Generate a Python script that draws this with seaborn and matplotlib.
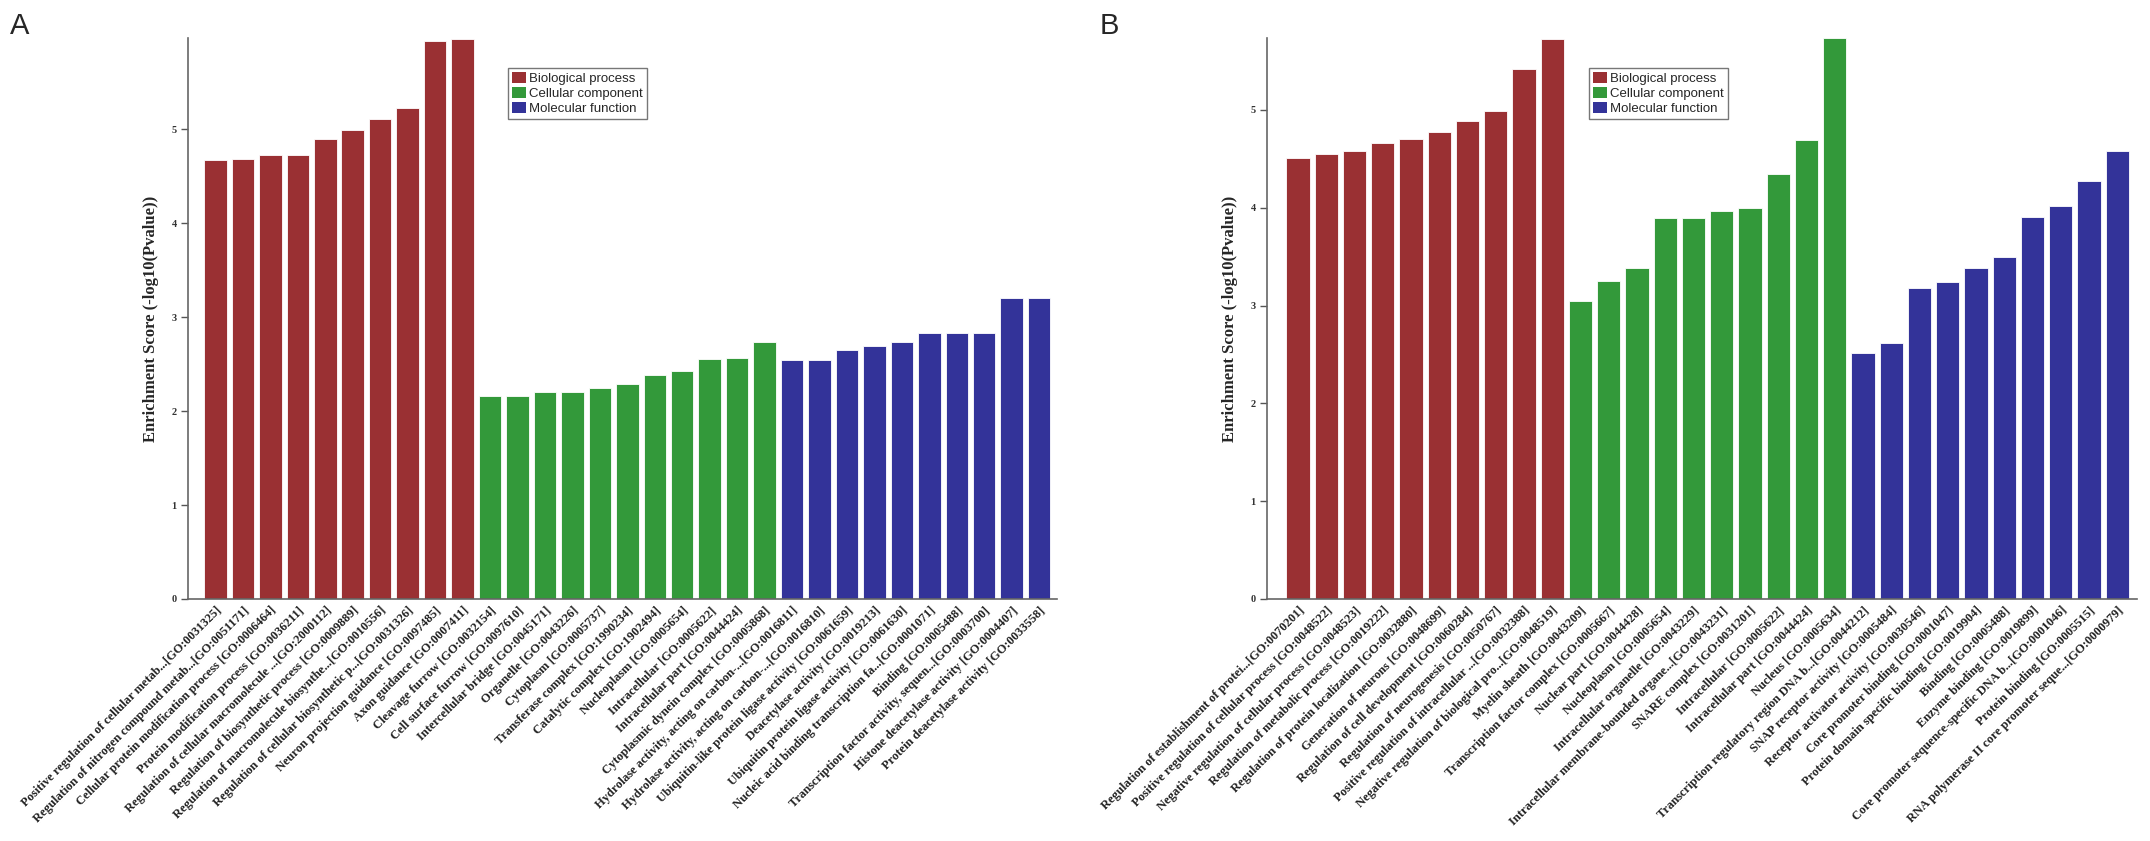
import numpy as np
import pandas as pd
import matplotlib
matplotlib.use("Agg")
import matplotlib.pyplot as plt
from matplotlib.patches import Patch
import seaborn as sns

# ---------------- data ----------------
categories = ["Biological process", "Cellular component", "Molecular function"]
colors = ["#9a3033", "#33993a", "#333399"]

a_bp_terms = [
    "Positive regulation of cellular metab...[GO:0031325]",
    "Regulation of nitrogen compound metab...[GO:0051171]",
    "Cellular protein modification process [GO:0006464]",
    "Protein modification process [GO:0036211]",
    "Regulation of cellular macromolecule ...[GO:2000112]",
    "Regulation of biosynthetic process [GO:0009889]",
    "Regulation of macromolecule biosynthe...[GO:0010556]",
    "Regulation of cellular biosynthetic p...[GO:0031326]",
    "Neuron projection guidance [GO:0097485]",
    "Axon guidance [GO:0007411]",
]
a_bp_values = [4.67, 4.68, 4.73, 4.73, 4.90, 4.99, 5.11, 5.23, 5.94, 5.96]

a_cc_terms = [
    "Cleavage furrow [GO:0032154]",
    "Cell surface furrow [GO:0097610]",
    "Intercellular bridge [GO:0045171]",
    "Organelle [GO:0043226]",
    "Cytoplasm [GO:0005737]",
    "Transferase complex [GO:1990234]",
    "Catalytic complex [GO:1902494]",
    "Nucleoplasm [GO:0005654]",
    "Intracellular [GO:0005622]",
    "Intracellular part [GO:0044424]",
    "Cytoplasmic dynein complex [GO:0005868]",
]
a_cc_values = [2.16, 2.16, 2.20, 2.20, 2.25, 2.29, 2.38, 2.43, 2.55, 2.56, 2.73]

a_mf_terms = [
    "Hydrolase activity, acting on carbon-...[GO:0016811]",
    "Hydrolase activity, acting on carbon-...[GO:0016810]",
    "Ubiquitin-like protein ligase activity [GO:0061659]",
    "Deacetylase activity [GO:0019213]",
    "Ubiquitin protein ligase activity [GO:0061630]",
    "Nucleic acid binding transcription fa...[GO:0001071]",
    "Binding [GO:0005488]",
    "Transcription factor activity, sequen...[GO:0003700]",
    "Histone deacetylase activity [GO:0004407]",
    "Protein deacetylase activity [GO:0033558]",
]
a_mf_values = [2.54, 2.54, 2.65, 2.69, 2.74, 2.83, 2.83, 2.83, 3.20, 3.20]

b_bp_terms = [
    "Regulation of establishment of protei...[GO:0070201]",
    "Positive regulation of cellular process [GO:0048522]",
    "Negative regulation of cellular process [GO:0048523]",
    "Regulation of metabolic process [GO:0019222]",
    "Regulation of protein localization [GO:0032880]",
    "Generation of neurons [GO:0048699]",
    "Regulation of cell development [GO:0060284]",
    "Regulation of neurogenesis [GO:0050767]",
    "Positive regulation of intracellular ...[GO:0032388]",
    "Negative regulation of biological pro...[GO:0048519]",
]
b_bp_values = [4.51, 4.55, 4.58, 4.66, 4.70, 4.77, 4.89, 4.99, 5.42, 5.72]

b_cc_terms = [
    "Myelin sheath [GO:0043209]",
    "Transcription factor complex [GO:0005667]",
    "Nuclear part [GO:0044428]",
    "Nucleoplasm [GO:0005654]",
    "Intracellular organelle [GO:0043229]",
    "Intracellular membrane-bounded organe...[GO:0043231]",
    "SNARE complex [GO:0031201]",
    "Intracellular [GO:0005622]",
    "Intracellular part [GO:0044424]",
    "Nucleus [GO:0005634]",
]
b_cc_values = [3.05, 3.25, 3.38, 3.89, 3.89, 3.97, 4.00, 4.34, 4.69, 5.73]

b_mf_terms = [
    "Transcription regulatory region DNA b...[GO:0044212]",
    "SNAP receptor activity [GO:0005484]",
    "Receptor activator activity [GO:0030546]",
    "Core promoter binding [GO:0001047]",
    "Protein domain specific binding [GO:0019904]",
    "Binding [GO:0005488]",
    "Enzyme binding [GO:0019899]",
    "Core promoter sequence-specific DNA b...[GO:0001046]",
    "Protein binding [GO:0005515]",
    "RNA polymerase II core promoter seque...[GO:0000979]",
]
b_mf_values = [2.51, 2.62, 3.18, 3.24, 3.38, 3.50, 3.91, 4.02, 4.27, 4.58]

y_ticks = [0, 1, 2, 3, 4, 5]
y_label = "Enrichment Score (-log10(Pvalue))"


def make_df(bp_t, bp_v, cc_t, cc_v, mf_t, mf_v):
    return pd.DataFrame({
        "term": bp_t + cc_t + mf_t,
        "score": bp_v + cc_v + mf_v,
        "category": [categories[0]] * len(bp_t) + [categories[1]] * len(cc_t)
        + [categories[2]] * len(mf_t),
    })


df_a = make_df(a_bp_terms, a_bp_values, a_cc_terms, a_cc_values, a_mf_terms, a_mf_values)
df_b = make_df(b_bp_terms, b_bp_values, b_cc_terms, b_cc_values, b_mf_terms, b_mf_values)

# ---------------- figure ----------------
sns.set_style("white")
plt.rcParams["font.family"] = ["Liberation Serif", "DejaVu Serif"]

fig = plt.figure(figsize=(21.5, 8.41), dpi=100)
W, H = 2150, 841
top_px, bot_px = 38, 599
ax_a = fig.add_axes([188 / W, 1 - bot_px / H, (1057 - 188) / W, (bot_px - top_px) / H])
ax_b = fig.add_axes([1267 / W, 1 - bot_px / H, (2137 - 1267) / W, (bot_px - top_px) / H])

palette = dict(zip(categories, colors))

for ax, df, xlim, ylim, leg_x, letter, lx in [
    (ax_a, df_a, (-1.0, 30.65), (0, 5.97), 0.368, "A", 10 / W),
    (ax_b, df_b, (-1.1, 29.7), (0, 5.735), 0.370, "B", 1100 / W),
]:
    sns.barplot(data=df, x="term", y="score", hue="category", palette=palette,
                dodge=False, width=0.82, saturation=1, ax=ax, legend=False,
                edgecolor="white", linewidth=0.6)
    ax.set_xlim(*xlim)
    ax.set_ylim(*ylim)
    ax.set_yticks(y_ticks)
    ax.set_yticklabels([str(t) for t in y_ticks], fontsize=7.5, fontweight="bold", color="#333333")
    ax.set_xticks(range(len(df)))
    ax.set_xticklabels(df["term"], rotation=45, ha="right", rotation_mode="anchor",
                       fontsize=9, fontweight="bold", color="#222222")
    ax.tick_params(axis="x", length=0, pad=4)
    ax.tick_params(axis="y", length=5, width=1, color="#555555", direction="out", pad=3, left=True)
    ax.set_xlabel("")
    ax.set_ylabel(y_label, fontsize=12, fontweight="bold", labelpad=9)
    for s in ["top", "right"]:
        ax.spines[s].set_visible(False)
    for s in ["left", "bottom"]:
        ax.spines[s].set_color("#666666")
        ax.spines[s].set_linewidth(1.2)

    handles = [Patch(facecolor=c, edgecolor="none", label=l) for c, l in zip(colors, categories)]
    leg = ax.legend(handles=handles, loc="upper left", bbox_to_anchor=(leg_x, 0.947),
                    borderaxespad=0, frameon=True, fancybox=False, handlelength=1.1,
                    handleheight=0.9, handletextpad=0.2, labelspacing=0.15,
                    borderpad=0.3, prop={"family": ["Liberation Sans", "DejaVu Sans"], "size": 9.5})
    leg.get_frame().set_edgecolor("#555555")
    leg.get_frame().set_linewidth(1.0)

    fig.text(lx, 1 - 12 / H, letter, fontsize=21, family=["Liberation Sans", "DejaVu Sans"],
             ha="left", va="top")

fig.savefig("out.png", dpi=100, facecolor="white")
